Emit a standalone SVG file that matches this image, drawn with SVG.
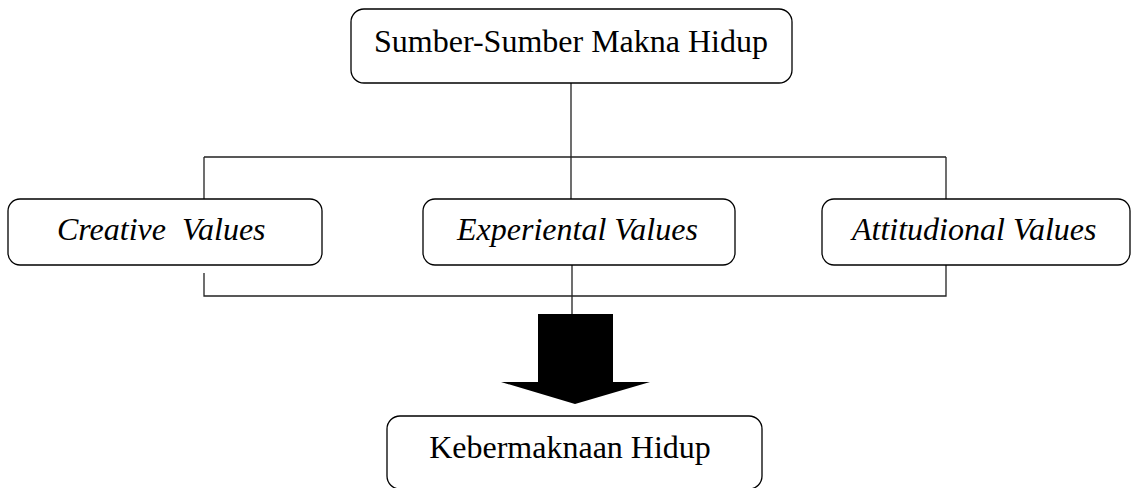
<svg xmlns="http://www.w3.org/2000/svg" width="1131" height="488" viewBox="0 0 1131 488">
<style>
.box{fill:#fff;stroke:#000;stroke-width:1.3}
.t{font-family:"Liberation Serif","Times New Roman",serif;font-size:32px;fill:#000}
.i{font-style:italic}
.c{fill:none;stroke:#222;stroke-width:1.3}
</style>
<rect width="1131" height="488" fill="#fff"/>
<g id="connectors">
<path class="c" d="M571 83V157M204 157H946M204 157V199M571 157V199M946 157V199"/>
<path class="c" d="M204 273V296H946V253M572 265V314"/>
<polygon points="538,314 613,314 613,382 650,382 575,404 501,382 538,382" fill="#000"/>
</g>
<g id="node-sumber">
<rect class="box" x="351" y="9" width="441" height="74" rx="13"/>
<text class="t" x="571" y="52" text-anchor="middle">Sumber-Sumber Makna Hidup</text>
</g>
<g id="node-creative">
<rect class="box" x="8" y="199" width="314" height="66" rx="12"/>
<text class="t i" x="57" y="240" xml:space="preserve">Creative  Values</text>
</g>
<g id="node-experiental">
<rect class="box" x="423" y="199" width="312" height="66" rx="12"/>
<text class="t i" x="457" y="240">Experiental Values</text>
</g>
<g id="node-attitudional">
<rect class="box" x="822" y="199" width="308" height="66" rx="12"/>
<text class="t i" x="852" y="240">Attitudional Values</text>
</g>
<g id="node-kebermaknaan">
<rect class="box" x="387" y="416" width="375" height="73" rx="13"/>
<text class="t" x="570" y="458" text-anchor="middle">Kebermaknaan Hidup</text>
</g>
</svg>
